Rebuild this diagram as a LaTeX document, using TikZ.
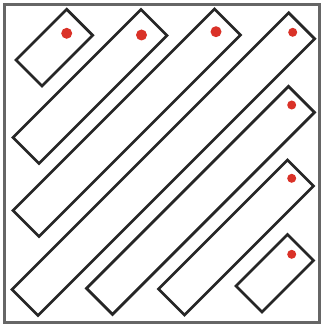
\documentclass[tikz,border=0pt]{standalone}
\usepackage{tikz}
\usetikzlibrary{calc}
\definecolor{dotred}{RGB}{218,50,40}

\begin{document}
\begin{tikzpicture}[x=1pt,y=-1pt,strip/.style={draw=black!85,line width=2.8pt,line join=miter}]
\useasboundingbox (0,0) rectangle (321,326);
\draw[black!60,line width=2.2pt] (4.5,4.5) rectangle (319.5,322.5);
% strips, from the left corner up to the top corner
\draw[strip] (16,60) -- ++(50.7,-50.7) -- ++(26,26) -- ++(-50.7,50.7) -- cycle;
\draw[strip] (13,137.5) -- ++(128,-128) -- ++(26,26) -- ++(-128,128) -- cycle;
\draw[strip] (13,210.5) -- ++(201.5,-201.5) -- ++(26,26) -- ++(-201.5,201.5) -- cycle;
\draw[strip] (12,289.5) -- ++(276.7,-276.7) -- ++(26,26) -- ++(-276.7,276.7) -- cycle;
\draw[strip] (86.5,288.3) -- ++(202,-202) -- ++(26,26) -- ++(-202,202) -- cycle;
\draw[strip] (158.5,289) -- ++(129,-129) -- ++(26,26) -- ++(-129,129) -- cycle;
\draw[strip] (236,286) -- ++(51.5,-51.5) -- ++(26,26) -- ++(-51.5,51.5) -- cycle;
% dots
\fill[dotred] (66.7,33.3) circle (5.5pt);
\fill[dotred] (141.5,35) circle (5.5pt);
\fill[dotred] (216,31.7) circle (5.5pt);
\fill[dotred] (292.7,32.3) circle (4.5pt);
\fill[dotred] (291.7,105) circle (4.5pt);
\fill[dotred] (291.7,178.3) circle (4.5pt);
\fill[dotred] (291.7,254.3) circle (4.5pt);
\end{tikzpicture}
\end{document}
